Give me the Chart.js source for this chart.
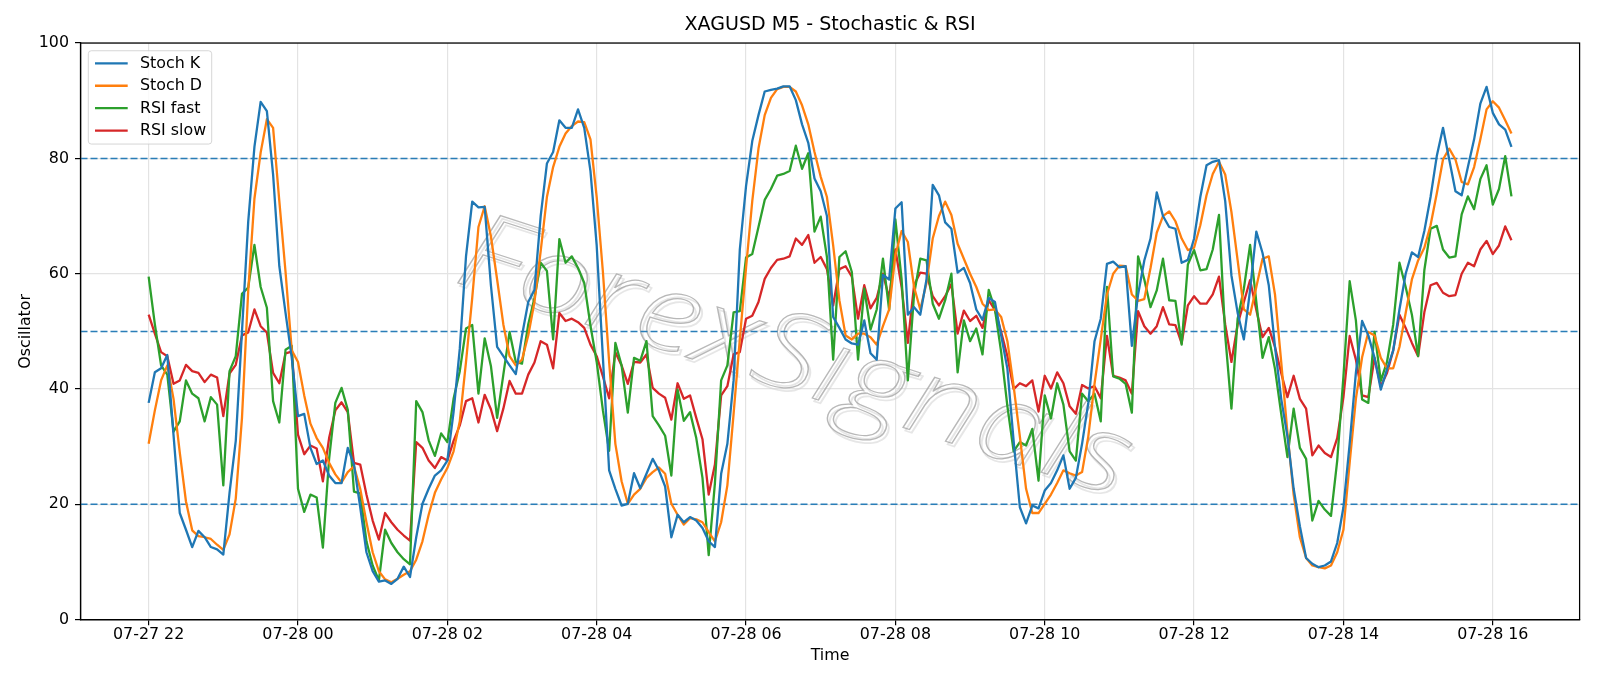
<!DOCTYPE html>
<html>
<head>
<meta charset="utf-8">
<script src="https://cdn.jsdelivr.net/npm/chart.js@4.4.1/dist/chart.umd.min.js"></script>
<style>
html,body{margin:0;padding:0;background:#fff;}
canvas{display:block;}
</style>
</head>
<body>
<canvas id="c" width="1600" height="686"></canvas>
<script>
// ---------- data (5-minute bars from 07-27 22:00) ----------
const stochK = [
 37.6, 42.9, 43.6, 45.9, 32, 18.5, 15.6, 12.6, 15.4, 14.3,
 12.6, 12.2, 11.3, 22, 31, 50, 69, 82, 89.8, 88.2,
 77.2, 61.3, 53.2, 45.4, 35.3, 35.7, 29.8, 27, 27.6, 25,
 23.7, 23.7, 29.8, 26.9, 19.5, 11.7, 8.4, 6.6, 6.8, 6.2,
 7.1, 9.2, 7.4, 14.3, 20.1, 22.7, 25, 25.9, 27.6, 36,
 47, 63, 72.5, 71.5, 71.6, 58, 47.3, 45.7, 44.1, 42.6,
 49.3, 55.1, 57.2, 70, 79.1, 81.1, 86.6, 85.3, 85.3, 88.5,
 85.3, 77.8, 64.9, 45.4, 25.9, 22.7, 19.8, 20.1, 25.4, 22.8,
 25.3, 27.9, 25.9, 23.1, 14.3, 18.2, 16.9, 17.8, 17.2, 15.9,
 13.6, 12.6, 25.3, 30.5, 41.5, 64.2, 75.2, 83, 87.5, 91.6,
 91.9, 92.1, 92.5, 92.5, 90.1, 85.9, 82.7, 76.5, 74.3, 70,
 52.5, 50.6, 48.6, 47.9, 47.7, 51.9, 46.2, 45.1, 59.8, 59,
 71.3, 72.4, 52.9, 54.2, 52.9, 59, 75.4, 73.6, 68.9, 67.8,
 60.2, 61, 58.4, 53.8, 52, 55.8, 55.1, 49.3, 43.5, 31,
 19.5, 16.7, 19.8, 19.3, 22.4, 23.7, 25.9, 28.5, 22.7, 24.6,
 30.5, 37.6, 48.3, 52.2, 61.7, 62.1, 61.1, 61.3, 47.5, 56.4,
 62.3, 66.1, 74.1, 70, 68.1, 67.8, 61.9, 62.4, 66.1, 73.3,
 78.8, 79.4, 79.7, 72.6, 59.7, 53.2, 48.6, 57.2, 67.3, 63.6,
 58, 47.3, 38.3, 31.8, 22.7, 16.2, 10.7, 9.7, 9.1, 9.4,
 10.1, 13.3, 19.5, 30.5, 42.8, 51.8, 49.3, 45.4, 39.9, 43.4,
 46.7, 53.8, 60, 63.7, 62.9, 67.4, 73.3, 80.4, 85.3, 79.8,
 74.3, 73.6, 78.5, 83.3, 89.5, 92.4, 87.9, 85.9, 85, 82
];
const stochD = [
 30.5, 36.3, 41.5, 44.1, 38.3, 29, 20.5, 15.5, 14.5, 14.3,
 14, 13, 12.1, 14.8, 21, 35, 57, 73, 81, 86.8,
 85.3, 72.6, 60.3, 46.7, 44.7, 38.9, 34, 31.5, 29.8, 27.2,
 25.2, 23.8, 25.6, 26.6, 22.7, 16.9, 11.7, 8.4, 7, 6.5,
 7.1, 7.8, 8.4, 10.4, 13.6, 18.2, 22, 24.3, 26.3, 29.2,
 34.4, 44.7, 55.8, 68.1, 71.7, 66.5, 59, 51.2, 45.7, 44.1,
 45.1, 49.3, 55.1, 63.9, 73.3, 78.5, 82, 84.3, 85.6, 86.4,
 86.3, 83.3, 73.3, 60.3, 44.7, 30.5, 24, 20.1, 21.7, 22.7,
 24.6, 25.6, 26.4, 25.3, 20.1, 18.2, 16.5, 17.6, 17.4, 16.9,
 15.2, 13.6, 16.9, 23.3, 35.7, 48.6, 61, 72.6, 81.7, 87.5,
 90.5, 92, 92.4, 92.4, 91.6, 89.2, 85.9, 81.1, 76.8, 73.3,
 64.9, 55.4, 49.3, 48.6, 49.6, 49.6, 49, 47.7, 50.9, 53.8,
 63.2, 67.4, 65.5, 57.7, 53.8, 58.4, 66.1, 70, 72.5, 70.2,
 65.2, 62.6, 60, 57.7, 54.8, 53.7, 53.8, 52.5, 48.3, 40.5,
 31.8, 22.7, 18.5, 18.5, 20.1, 21.7, 23.7, 25.9, 25.4, 25,
 25.6, 31.8, 40.9, 48.6, 56.4, 60, 61.4, 61.3, 56.4, 55.3,
 55.6, 61, 67.1, 70, 70.8, 69.1, 66.1, 64.1, 64.5, 68.4,
 73.6, 77.3, 79.4, 77.2, 70.7, 62.3, 53.8, 52.9, 57.7, 62.6,
 63, 56.4, 44.7, 32.4, 21.7, 14.3, 10.7, 9.4, 9.1, 8.9,
 9.4, 11.7, 15.6, 27.2, 38.3, 45.5, 49.9, 49.3, 45.4, 43.6,
 43.6, 47.3, 53.2, 59, 62.3, 64.5, 68.4, 73.9, 79.8, 81.7,
 79.8, 75.9, 75.5, 78.5, 83.3, 88.5, 89.9, 88.8, 86.6, 84.3
];
const rsiFast = [
 59.5, 51.2, 44.1, 42.5, 32.6, 34.4, 41.5, 39.2, 38.4, 34.4,
 38.6, 37.3, 23.3, 43.1, 45.7, 56.5, 57.6, 65, 57.7, 54.1,
 37.9, 34.2, 46.8, 47.5, 22.7, 18.7, 21.7, 21.2, 12.5, 27.9,
 37.6, 40.2, 36.4, 22.2, 21.9, 13.6, 9.4, 6.8, 15.6, 13.3,
 11.7, 10.5, 9.6, 37.9, 36, 31.1, 28.4, 32.3, 30.8, 38.3,
 43.1, 50.5, 51.1, 39.2, 48.8, 44, 35, 42.5, 49.9, 44.7,
 44.4, 51.2, 55.8, 61.9, 60.5, 48.6, 66, 61.9, 63, 61,
 58.4, 51, 44.7, 36.3, 29.3, 48, 44.1, 35.9, 45.4, 44.9,
 48.3, 35.3, 33.7, 31.9, 25, 39.9, 34.5, 36, 31.5, 24.6,
 11.2, 23.7, 41.5, 44.1, 53.3, 53.5, 62.8, 63.4, 68.1, 72.8,
 74.7, 77, 77.3, 77.8, 82.2, 78.2, 80.9, 67.3, 69.9, 62.9,
 45.1, 62.9, 63.9, 60.3, 45.1, 57.4, 50.3, 53.8, 62.6, 53.7,
 69.4, 59, 41.5, 56.4, 62.6, 62.3, 54.8, 52.2, 55.4, 60,
 42.9, 51.9, 48.3, 50.5, 46, 57.2, 53.8, 46.4, 37, 29.2,
 30.8, 30.2, 33.1, 24.1, 38.9, 34.9, 41, 37.3, 29.2, 27.6,
 39.2, 37.9, 39.2, 34.4, 57.7, 42.2, 41.8, 40.9, 35.9, 63,
 59, 54.2, 57.1, 62.6, 55.4, 55.3, 47.7, 61.6, 64.1, 60.6,
 60.8, 64.2, 70.2, 49.3, 36.6, 52.2, 57.4, 65, 55.1, 45.4,
 49, 43.5, 35.7, 28.2, 36.6, 29.8, 27.9, 17.2, 20.6, 19.1,
 18, 27.6, 42.2, 58.7, 51.9, 38.2, 37.6, 49.9, 41.4, 44.7,
 51.2, 61.9, 57.7, 52.9, 45.7, 60.6, 67.8, 68.3, 64.2, 62.8,
 63, 70.3, 73.4, 71.2, 76.4, 78.8, 72, 74.7, 80.4, 73.4
];
const rsiSlow = [
 52.9, 49.6, 46.4, 45.7, 40.9, 41.5, 44.2, 43.1, 42.8, 41.2,
 42.5, 42, 35.3, 42.7, 44.2, 49.3, 49.8, 53.8, 50.9, 49.8,
 42.8, 41, 46.2, 46.5, 32.1, 28.7, 30.2, 29.7, 24, 31.5,
 36.3, 37.7, 36, 27.2, 26.9, 21.7, 17.2, 13.9, 18.5, 16.9,
 15.6, 14.6, 13.7, 30.8, 29.8, 27.6, 26.3, 28.2, 27.6, 31,
 33.7, 37.9, 38.4, 34.2, 39, 36.5, 32.7, 36.6, 41.4, 39.2,
 39.2, 42.5, 44.6, 48.3, 47.7, 43.6, 53.2, 51.8, 52.2, 51.6,
 50.6, 47.7, 45.7, 42.2, 38.4, 46.4, 44.1, 40.9, 44.7, 44.6,
 46, 40.2, 39.2, 38.5, 34.7, 41, 38.3, 38.9, 35, 31.3,
 21.7, 26.9, 38.9, 40.5, 46, 46.4, 52.2, 52.7, 55.1, 59.1,
 61, 62.4, 62.6, 63, 66.1, 65, 66.7, 61.9, 62.9, 60.8,
 54.5, 60.8, 61.3, 59.5, 52.2, 58, 54, 55.8, 60, 55.8,
 64.2, 57.7, 48, 58, 60.2, 60, 56.1, 54.5, 56.1, 58.2,
 49.6, 53.6, 51.8, 52.7, 50.6, 55.4, 53.7, 49.9, 45.7, 40,
 41, 40.5, 41.5, 36.1, 42.3, 40.1, 42.9, 41, 37, 35.7,
 40.7, 40.1, 40.5, 38.4, 49.2, 42.3, 42, 41.5, 39.2, 53.5,
 50.9, 49.6, 50.9, 54.2, 51.2, 51.1, 47.9, 54.5, 56.1, 54.8,
 54.8, 56.4, 59.5, 51.2, 44.7, 51.2, 55.1, 58.9, 53.7, 49,
 50.6, 47.3, 42.8, 38.6, 42.3, 38.3, 36.6, 28.5, 30.2, 28.9,
 28.2, 31.5, 38.6, 49.2, 45.1, 38.9, 38.6, 45.4, 40.5, 42.8,
 46.7, 52.9, 50.6, 48, 45.7, 53.3, 58, 58.4, 56.7, 56.1,
 56.3, 60, 61.9, 61.3, 64.2, 65.7, 63.4, 64.9, 68.2, 65.8
];
const xTickLabels = ['07-27 22','07-28 00','07-28 02','07-28 04','07-28 06','07-28 08','07-28 10','07-28 12','07-28 14','07-28 16'];
const barsPerTick = 24;           // 2 hours of 5-minute bars
const levels = [20, 50, 80];
const seriesNames = ['Stoch K', 'Stoch D', 'RSI fast', 'RSI slow'];
const seriesColors = ['#1f77b4', '#ff7f0e', '#2ca02c', '#d62728'];
const chartTitle = 'XAGUSD M5 - Stochastic & RSI';
const xTitle = 'Time';
const yTitle = 'Oscillator';
const watermarkText = 'ForexSignals';

// ---------- build ----------
const allSeries = [stochK, stochD, rsiFast, rsiSlow];
const N = stochK.length;
const xMin = -0.05 * (N - 1), xMax = (N - 1) * 1.05;
const FONT = "'DejaVu Sans', sans-serif";
const FS = 15.87;

Chart.defaults.font.family = FONT;
Chart.defaults.color = '#000';

const datasets = allSeries.map((arr, k) => ({
  label: seriesNames[k],
  data: arr.map((v, i) => ({x: i, y: v})),
  borderColor: seriesColors[k],
  backgroundColor: seriesColors[k],
  borderWidth: 2.3,
  pointRadius: 0,
  tension: 0,
  fill: false,
  borderJoinStyle: 'round'
}));
levels.forEach(L => datasets.push({
  label: 'level ' + L,
  data: [{x: xMin, y: L}, {x: xMax, y: L}],
  borderColor: 'rgba(31,119,180,0.95)',
  borderWidth: 1.5,
  borderDash: [7, 3],
  pointRadius: 0,
  tension: 0,
  fill: false
}));

const framePlugin = {
  id: 'frame',
  afterDraw(chart) {
    const {ctx, chartArea: a} = chart;
    ctx.save();
    ctx.strokeStyle = '#000';
    ctx.lineWidth = 1.25;
    ctx.strokeRect(a.left, a.top, a.right - a.left, a.bottom - a.top);
    ctx.restore();
  }
};

const watermarkPlugin = {
  id: 'watermark',
  beforeDatasetsDraw(chart) {
    const {ctx, chartArea: a} = chart;
    const w = a.right - a.left, h = a.bottom - a.top;
    ctx.save();
    ctx.translate(a.left + w * 0.47, a.top + h * 0.6);
    ctx.rotate(18 * Math.PI / 180);
    ctx.font = "italic 300 108px 'Open Sans', 'DejaVu Sans', sans-serif";
    const tw = ctx.measureText(watermarkText).width;
    ctx.scale(700 / tw, 1);
    ctx.textAlign = 'center';
    ctx.textBaseline = 'alphabetic';
    ctx.lineWidth = 1.6;
    ctx.strokeStyle = 'rgba(205,205,205,0.5)';
    ctx.strokeText(watermarkText, 2.5, 2.5);
    ctx.lineWidth = 1.2;
    ctx.strokeStyle = 'rgba(160,160,160,0.75)';
    ctx.strokeText(watermarkText, 0, 0);
    ctx.restore();
  }
};

const legendPlugin = {
  id: 'mplLegend',
  afterDraw(chart) {
    const {ctx, chartArea: a} = chart;
    const x0 = a.left + 7.8, y0 = a.top + 7.7, bw = 123.4, bh = 93.3, r = 3;
    ctx.save();
    ctx.beginPath();
    ctx.moveTo(x0 + r, y0);
    ctx.lineTo(x0 + bw - r, y0); ctx.quadraticCurveTo(x0 + bw, y0, x0 + bw, y0 + r);
    ctx.lineTo(x0 + bw, y0 + bh - r); ctx.quadraticCurveTo(x0 + bw, y0 + bh, x0 + bw - r, y0 + bh);
    ctx.lineTo(x0 + r, y0 + bh); ctx.quadraticCurveTo(x0, y0 + bh, x0, y0 + bh - r);
    ctx.lineTo(x0, y0 + r); ctx.quadraticCurveTo(x0, y0, x0 + r, y0);
    ctx.closePath();
    ctx.fillStyle = 'rgba(255,255,255,0.8)';
    ctx.fill();
    ctx.strokeStyle = 'rgba(204,204,204,0.8)';
    ctx.lineWidth = 1;
    ctx.stroke();
    ctx.font = FS + 'px ' + FONT;
    ctx.textBaseline = 'middle';
    ctx.textAlign = 'left';
    seriesNames.forEach((name, k) => {
      const y = y0 + 12.6 + k * 22.4;
      ctx.beginPath();
      ctx.moveTo(x0 + 6.7, y);
      ctx.lineTo(x0 + 39.4, y);
      ctx.strokeStyle = seriesColors[k];
      ctx.lineWidth = 2.3;
      ctx.stroke();
      ctx.fillStyle = '#000';
      ctx.fillText(name, x0 + 51.7, y + 0.5);
    });
    ctx.restore();
  }
};

new Chart(document.getElementById('c'), {
  type: 'line',
  data: {datasets},
  plugins: [watermarkPlugin, framePlugin, legendPlugin],
  options: {
    responsive: false,
    devicePixelRatio: 1,
    animation: false,
    events: [],
    layout: {padding: {left: 0, right: 20.4, top: 0, bottom: 0}},
    plugins: {
      legend: {display: false},
      tooltip: {enabled: false},
      title: {
        display: true,
        text: chartTitle,
        fullSize: false,
        color: '#000',
        font: {size: 19.05, weight: 'normal', family: FONT},
        padding: {top: 14.1, bottom: 6.1}
      }
    },
    scales: {
      x: {
        type: 'linear',
        min: xMin,
        max: xMax,
        afterBuildTicks: s => { s.ticks = xTickLabels.map((_, k) => ({value: k * barsPerTick})); },
        afterFit: s => { s.height = 66.3; },
        ticks: {
          autoSkip: false, maxRotation: 0, minRotation: 0,
          callback: (v, i) => xTickLabels[i],
          font: {size: FS}, color: '#000', padding: 0.5
        },
        grid: {color: '#e3e3e3', lineWidth: 1.2, drawTicks: true, tickLength: 5.5, tickColor: '#000', tickWidth: 1.2},
        border: {display: true, color: '#000', width: 1.25},
        title: {display: true, text: xTitle, color: '#000', font: {size: FS}, padding: {top: 0, bottom: 20.5}}
      },
      y: {
        min: 0,
        max: 100,
        afterFit: s => { s.width = 80.5; },
        ticks: {stepSize: 20, font: {size: FS}, color: '#000', padding: 6},
        grid: {color: '#e3e3e3', lineWidth: 1.2, drawTicks: true, tickLength: 5.5, tickColor: '#000', tickWidth: 1.2},
        border: {display: true, color: '#000', width: 1.25},
        title: {display: true, text: yTitle, color: '#000', font: {size: FS}, padding: {top: 16, bottom: 0}}
      }
    }
  }
});
</script>
</body>
</html>
